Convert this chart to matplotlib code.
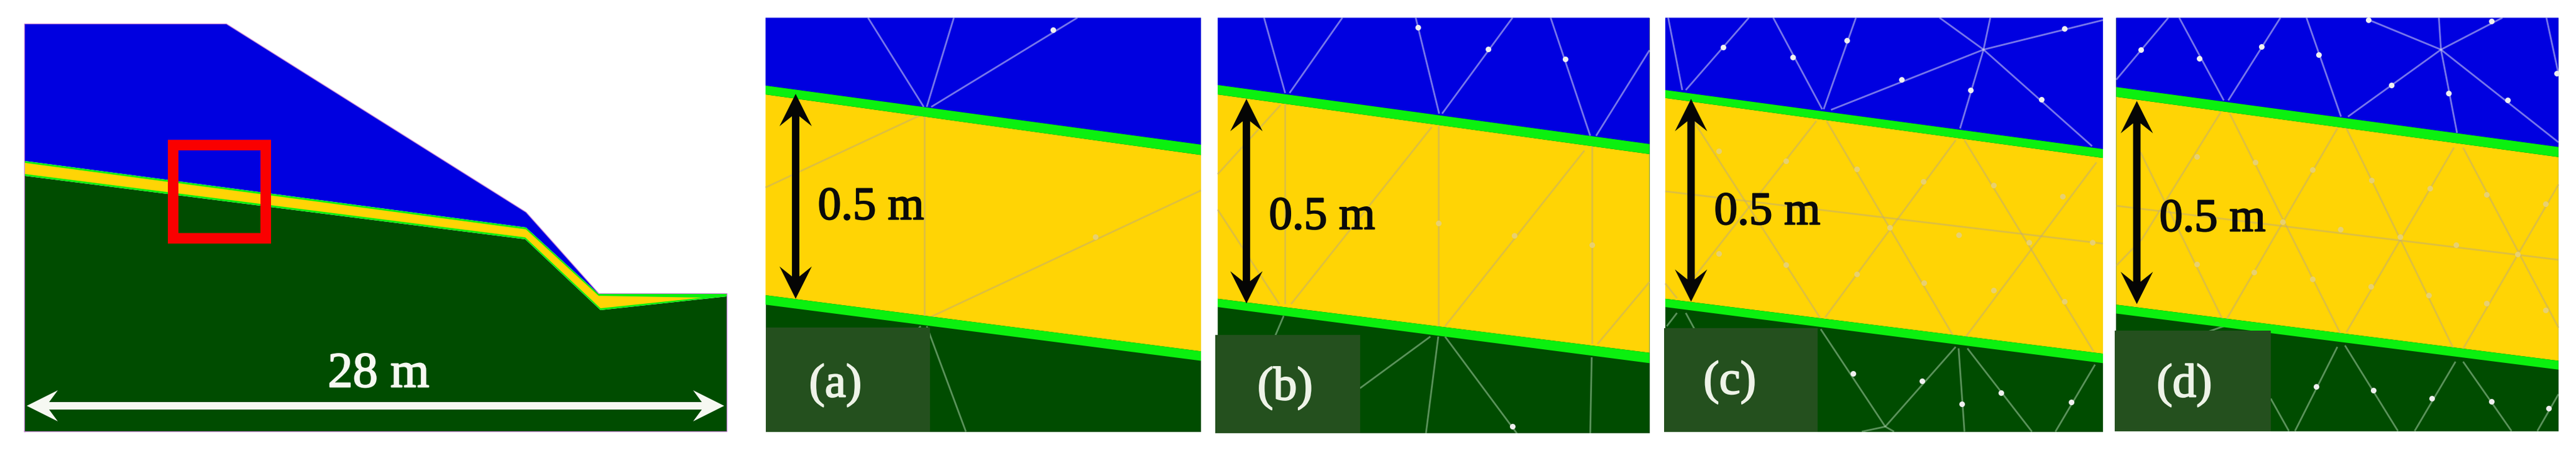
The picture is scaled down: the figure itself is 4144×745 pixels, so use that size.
import matplotlib
matplotlib.use("Agg")
import matplotlib.pyplot as plt
from matplotlib.patches import Polygon, Rectangle
import matplotlib.patheffects as pe

BLUE, YELLOW, BAND, DARK = "#0000E0", "#FFD405", "#0BF00F", "#004C00"
PATCH = "#24501E"
SERIF = "Liberation Serif"

# ---- overview section (image pixels) ----
soil_x = [40, 845, 966, 1169, 1169, 40]
soil_y = [283, 385, 499, 477, 694, 694]
blue_x = [40, 364, 846, 963, 846, 40]
blue_y = [39, 39, 342, 473, 366, 259]
band_x = [40, 846, 963, 1169, 1169, 966, 845, 40]
band_y = [259, 366, 473, 473, 477, 499, 385, 283]
layer_x = [40, 846, 963, 1130, 966, 845, 40]
layer_y = [262, 369, 476, 479, 496, 382, 280]
outline_x = [40, 40, 364, 846, 963, 1169, 1169, 40]
outline_y = [694, 39, 39, 342, 473, 473, 694, 694]
red_box = [277.5, 232.5, 149, 150]
span_x = [43, 1165]
span_y = 653
span_label = "28 m"

# ---- detail panels (x0, fx: crop origin and scale of the readings) ----
panel_a = dict(x0=1200, fx=2.063, xlim=(65, 1510), ybot=1462,
    top=(290, 320, 490, 525), bot=(1000, 1032, 1190, 1222),
    patch=(65, 610, 1110), arrow=(165, 318, 1012), text=(415, 705), label=("(a)", 297, 1305),
    blue=[[(405,60),(590,362)],[(690,60),(600,362)],[(1100,60),(615,362)]],
    blue_nodes=[(1020,102)],
    yel=[[(65,635),(590,385)],[(592,385),(592,1075)],[(1510,645),(610,1075)]],
    yel_nodes=[(1160,802)],
    drk=[[(600,1105),(730,1462)],[(580,1105),(560,1125)]],
    drk_nodes=[])
panel_b = dict(x0=1940, fx=2.119, xlim=(40, 1512), ybot=1468,
    top=(288, 320, 488, 522), bot=(1012, 1040, 1195, 1230),
    patch=(32, 525, 1135), arrow=(138, 335, 1028), text=(396, 738), label=("(b)", 270, 1315),
    blue=[[(198,60),(270,315)],[(465,60),(285,315)],[(715,60),(795,385)],[(1045,60),(805,385)],
          [(1175,60),(1310,460)],[(1512,170),(1330,460)]],
    blue_nodes=[(723,92),(962,167),(1224,200)],
    yel=[[(270,350),(270,1030)],[(40,590),(255,355)],[(40,710),(250,1030)],[(770,430),(290,1030)],
         [(792,425),(792,1105)],[(1290,510),(815,1105)],[(1315,495),(1315,1165)],[(1512,955),(1335,1165)]],
    yel_nodes=[(792,755),(1050,797),(1315,830)],
    drk=[[(265,1070),(235,1140)],[(765,1140),(525,1315)],[(792,1140),(750,1468)],
         [(815,1140),(1060,1468)],[(1315,1210),(1310,1468)]],
    drk_nodes=[(1045,1445)])
panel_c = dict(x0=2660, fx=2.119, xlim=(40, 1532), ybot=1462,
    top=(305, 332, 505, 535), bot=(1012, 1040, 1198, 1230),
    patch=(37, 560, 1112), arrow=(128, 335, 1022), text=(388, 722), label=("(c)", 260, 1295),
    blue=[[(50,60),(98,305)],[(325,60),(110,305)],[(408,60),(575,370)],[(690,60),(580,370)],
          [(975,60),(1125,168)],[(1125,168),(1495,495)],[(1148,60),(1125,168)],[(1125,168),(1045,435)],
          [(605,372),(1125,168)],[(1125,168),(1532,68)]],
    blue_nodes=[(237,160),(475,193),(658,137),(1323,337),(1080,305),(845,270),(1400,97)],
    yel=[[(40,648),(1532,825)],[(130,400),(570,1080)],[(555,410),(130,950)],[(590,410),(1035,1160)],
         [(1030,475),(585,1075)],[(1060,475),(1500,1190)],[(1510,550),(1050,1160)],[(40,960),(80,1010)]],
    yel_nodes=[(222,512),(452,897),(452,545),(222,858),(692,573),(922,958),(920,615),(692,928),
               (1160,628),(1400,1020),(1395,665),(1160,982),(1040,795),(1495,822),(805,770),(1280,820)],
    drk=[[(570,1115),(790,1445)],[(1030,1175),(790,1445)],[(1040,1180),(1060,1462)],[(1070,1180),(1290,1462)],
         [(1505,1235),(1370,1462)],[(790,1445),(820,1462)],[(790,1445),(710,1462)],
         [(80,1060),(45,1105)],[(110,1060),(140,1115)]],
    drk_nodes=[(680,1265),(916,1290),(1050,1368),(1185,1330),(1425,1362)])
panel_d = dict(x0=3380, fx=2.052, xlim=(50, 1510), ybot=1460,
    top=(295, 328, 498, 532), bot=(1032, 1062, 1222, 1252),
    patch=(45, 560, 1120), arrow=(118, 342, 1030), text=(368, 745), label=("(d)", 275, 1305),
    blue=[[(50,270),(222,60)],[(258,60),(405,340)],[(592,60),(420,340)],[(678,60),(792,395)],
          [(815,395),(1122,168)],[(1122,168),(1175,450)],[(1122,168),(1510,482)],[(1115,60),(1122,168)],
          [(1122,168),(885,68)],[(1122,168),(1325,60)],[(1470,60),(1510,250)]],
    blue_nodes=[(132,168),(325,197),(530,157),(718,185),(958,288),(1147,315),(1342,338),(883,68),(1288,72),(1505,248)],
    yel=[[(50,697),(1510,880)],[(130,515),(400,1080)],[(395,380),(135,810)],[(135,810),(50,900)],
         [(425,385),(790,1130)],[(780,435),(415,1080)],[(810,435),(1170,1195)],[(1165,500),(810,1125)],
         [(1195,500),(1510,1110)],[(1510,625),(1190,1190)]],
    yel_nodes=[(315,530),(315,895),(508,550),(698,945),(697,575),(505,922),(893,610),(1082,1000),(1085,637),
               (890,970),(1272,658),(1468,1050),(1468,690),(1272,1027),(790,777),(1172,830),(600,752),(988,802),(1375,860)],
    drk=[[(780,1175),(640,1460)],[(805,1170),(980,1460)],[(1170,1225),(1035,1460)],[(1195,1225),(1355,1460)],
         [(1510,1335),(1440,1460)],[(560,1350),(620,1460)],[(405,1105),(335,1130)]],
    drk_nodes=[(710,1310),(898,1322),(1092,1350),(1288,1360),(1478,1382)])
panels = [panel_a, panel_b, panel_c, panel_d]

FY = 2.105
YTOP = 60

fig = plt.figure(figsize=(41.44, 7.45), dpi=100, facecolor="white")
ax = fig.add_axes([0, 0, 1, 1])
ax.set_xlim(0, 4144)
ax.set_ylim(745, 0)
ax.axis("off")


def fill(xs, ys, color, z=1):
    ax.add_patch(Polygon(list(zip(xs, ys)), closed=True, fc=color, ec="none", zorder=z))


def arrow_v(x, y0, y1, color):
    hw, hl, nl, sw = 26, 52, 36, 6
    xs = [x, x + hw, x + sw, x + sw, x + hw, x, x - hw, x - sw, x - sw, x - hw]
    ys = [y0, y0 + hl, y0 + nl, y1 - nl, y1 - hl, y1, y1 - hl, y1 - nl, y0 + nl, y0 + hl]
    fill(xs, ys, color, 6)


def arrow_h(x0, x1, y, color):
    hw, hl, nl, sw = 25, 50, 36, 6
    xs = [x0, x0 + hl, x0 + nl, x1 - nl, x1 - hl, x1, x1 - hl, x1 - nl, x0 + nl, x0 + hl]
    ys = [y, y - hw, y - sw, y - sw, y - hw, y, y + hw, y + sw, y + sw, y + hw]
    fill(xs, ys, color, 6)


def heavy(color, w):
    return [pe.withStroke(linewidth=w, foreground=color)]


# overview
ax.plot(outline_x, outline_y, color="#C888D8", lw=1.8, zorder=1)
fill(soil_x, soil_y, DARK, 2)
fill(blue_x, blue_y, BLUE, 2)
fill(band_x, band_y, BAND, 3)
fill(layer_x, layer_y, YELLOW, 4)
ax.add_patch(Rectangle(red_box[:2], red_box[2], red_box[3], fc="none", ec="#FA0000", lw=12.2,
                       joinstyle="miter", zorder=6))
arrow_h(span_x[0], span_x[1], span_y, "#F6F8F2")
ax.text(609, 603, span_label, color="#F6F8F2", fontsize=58, family=SERIF, ha="center", va="center",
        zorder=7, path_effects=heavy("#F6F8F2", 1.5))

# details
for p in panels:
    X = lambda v: p["x0"] + v / p["fx"]
    Y = lambda v: v / FY
    l, r = X(p["xlim"][0]), X(p["xlim"][1])
    ty, by = Y(YTOP), Y(p["ybot"])
    t0, t1, t2, t3 = [Y(v) for v in p["top"]]
    b0, b1, b2, b3 = [Y(v) for v in p["bot"]]
    fill([l, r, r, l], [ty, ty, by, by], DARK, 1)
    fill([l, r, r, l], [ty, ty, t2, t0], BLUE, 1)
    fill([l, r, r, l], [t1, t3, b2, b0], YELLOW, 1)
    for segs, nodes, col, al in ((p["blue"], p["blue_nodes"], "#D8D8F4", 0.55),
                                 (p["yel"], p["yel_nodes"], "#C4AE70", 0.55),
                                 (p["drk"], p["drk_nodes"], "#C8E8C8", 0.45)):
        for s in segs:
            ax.plot([X(s[0][0]), X(s[1][0])], [Y(s[0][1]), Y(s[1][1])], color=col, alpha=al,
                    lw=2.0, solid_capstyle="butt", zorder=2)
        if nodes:
            ax.plot([X(n[0]) for n in nodes], [Y(n[1]) for n in nodes], ls="none", marker="o", ms=6.5,
                    mfc="#F0F0F0" if col != "#C4AE70" else "#E8D070", mec="none", zorder=2)
    fill([l, r, r, l], [t0, t2, t3, t1], BAND, 3)
    fill([l, r, r, l], [b0, b2, b3, b1], BAND, 3)
    px0, px1, py = p["patch"]
    fill([X(px0), X(px1), X(px1), X(px0)], [Y(py), Y(py), by, by], PATCH, 4)
    ax_, ay0, ay1 = p["arrow"]
    arrow_v(X(ax_), Y(ay0), Y(ay1), "#050505")
    ax.text(X(p["text"][0]), Y(p["text"][1]), "0.5 m", color="#0A0A0A", fontsize=54, family=SERIF,
            ha="center", va="center", zorder=7, path_effects=heavy("#0A0A0A", 1.5))
    lab, lx, ly = p["label"]
    ax.text(X(lx), Y(ly), lab, color="#EEF3E8", fontsize=55, family=SERIF, ha="center", va="center",
            zorder=7, path_effects=heavy("#EEF3E8", 1.5))

fig.savefig("out.png", dpi=100, facecolor="white")
